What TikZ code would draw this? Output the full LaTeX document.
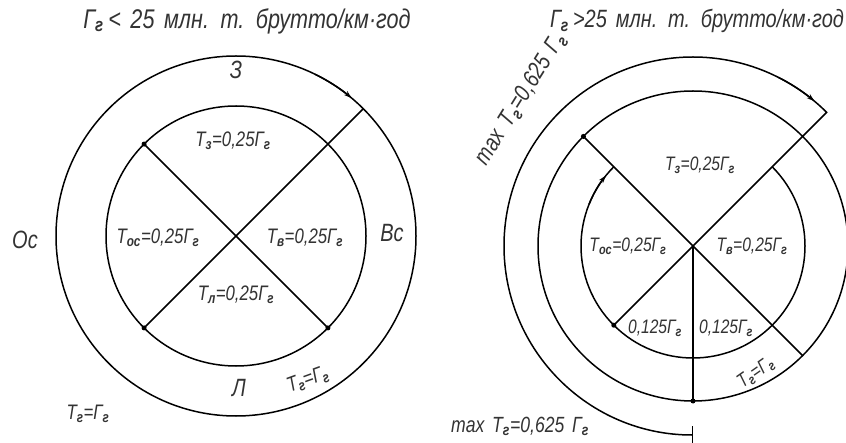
\documentclass[tikz,border=0pt]{standalone}
\usepackage{fontspec}
\newfontfamily\gost[FakeStretch=0.8,WordSpace=1.6]{Liberation Sans}
\usetikzlibrary{arrows.meta,calc}
\tikzset{
  ring/.style={line width=1.5pt},
  ray/.style={line width=1.5pt},
  tip/.style={-{Stealth[length=8pt,width=5pt]}, line width=1.5pt},
  pt/.style={circle, fill, inner sep=0pt, minimum size=5pt},
  lbl/.style={font=\gost\itshape\fontsize{21}{23}\selectfont, inner sep=1pt, text=black!80},
  lbr/.style={lbl, font=\gost\itshape\fontsize{19.5}{21}\selectfont},
  ttl/.style={lbl, font=\gost\itshape\fontsize{27}{29}\selectfont},
  sn/.style={lbl, font=\gost\itshape\fontsize{25}{27}\selectfont},
}
\newcommand{\sbs}[1]{\textsubscript{\bfseries #1}}
\begin{document}
\begin{tikzpicture}[x=1pt,y=1pt]
  \useasboundingbox (0,0) rectangle (846,442);
  % left diagram
  \coordinate (L) at (236,206);
  \foreach \a/\n in {45/ne,135/nw,225/sw,315/se}{
    \coordinate (Li\n) at ($(L)+(\a:130pt)$);
    \coordinate (Lo\n) at ($(L)+(\a:180pt)$);
  }
  \draw[ring] (L) circle[radius=180pt];
  \draw[ring] (L) circle[radius=130pt];
  \draw[tip] ($(L)+(64:180pt)$) arc[start angle=64, end angle=50, radius=180pt];
  \draw[ray] (Linw) -- (Lise);
  \draw[ray] (Lisw) -- (Lone);
  \foreach \n in {nw,sw,se} \node[pt] (dL\n) at (Li\n) {};
  \node[ttl] (tl) at (247,421) {Г\sbs{г}\,< 25 млн. т. брутто/км·год};
  \node[sn] (zL) at (236,372) {З};
  \node[lbl] (t1L) at (233,301) {T\sbs{з}=0,25Г\sbs{г}};
  \node[lbl] (t4L) at (158,204) {T\sbs{ос}=0,25Г\sbs{г}};
  \node[lbl] (t2L) at (305,204) {T\sbs{в}=0,25Г\sbs{г}};
  \node[sn] (vL) at (392,209) {Вс};
  \node[sn] (oL) at (25,202) {Ос};
  \node[lbl] (t3L) at (236,147) {T\sbs{л}=0,25Г\sbs{г}};
  \node[sn] (lL) at (239,54) {Л};
  \node[lbl, rotate=20] (tgL) at (308,62) {T\sbs{г}=Г\sbs{г}};
  \node[lbl] (tyL) at (88,28) {T\sbs{г}=Г\sbs{г}};
  % right diagram
  \coordinate (R) at (693,196);
  \foreach \a/\n in {45/ne,135/nw,225/sw,270/s,315/se}{
    \coordinate (Ri\n) at ($(R)+(\a:112pt)$);
    \coordinate (Rm\n) at ($(R)+(\a:155pt)$);
    \coordinate (Ro\n) at ($(R)+(\a:189pt)$);
  }
  \draw[ring] (R) circle[radius=155pt];
  \draw[ring] (Rine) arc[start angle=45, end angle=-225, radius=112pt];
  \draw[tip] ($(R)+(158:112pt)$) arc[start angle=158, end angle=141, radius=112pt];
  \draw[ring, {Bar[width=18pt]}-] (Ros) arc[start angle=270, end angle=45, radius=189pt] -- (R);
  \draw[tip] ($(R)+(63:189pt)$) arc[start angle=63, end angle=50, radius=189pt];
  \draw[ray] (R) -- (Rmnw);
  \draw[ray] (R) -- (Rmse);
  \draw[ray] (R) -- (Risw);
  \draw[ray] (R) -- (Rms);
  \foreach \n in {mnw,isw,ms} \node[pt] (dR\n) at (R\n) {};
  \node[ttl, font=\gost\itshape\fontsize{25}{27}\selectfont] (tr) at (697,421) {Г\sbs{г}\,>25 млн. т. брутто/км·год};
  \node[lbl, font=\gost\itshape\fontsize{24}{26}\selectfont, rotate=58] (mxR) at (521,343) {max T\sbs{г}=0,625 Г\sbs{г}};
  \node[lbr] (t1R) at (700,277) {T\sbs{з}=0,25Г\sbs{г}};
  \node[lbr] (t4R) at (628,196) {T\sbs{ос}=0,25Г\sbs{г}};
  \node[lbr] (t2R) at (752,196) {T\sbs{в}=0,25Г\sbs{г}};
  \node[lbr] (h1R) at (655,114) {0,125Г\sbs{г}};
  \node[lbr] (h2R) at (726,114) {0,125Г\sbs{г}};
  \node[lbr, rotate=35] (tgR) at (756,69) {T\sbs{г}=Г\sbs{г}};
  \node[lbl, font=\gost\itshape\fontsize{22}{24}\selectfont] (mbR) at (520,16) {max T\sbs{г}=0,625 Г\sbs{г}};
\end{tikzpicture}
\end{document}
